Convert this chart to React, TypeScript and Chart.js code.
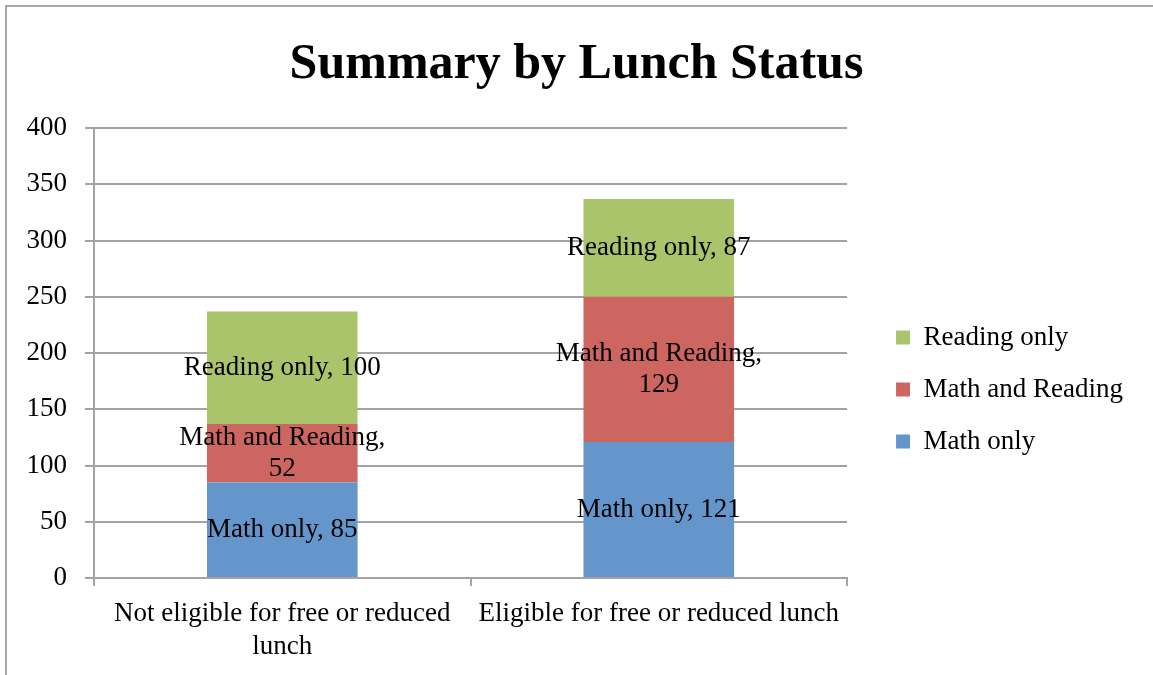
import React, { useEffect, useRef } from 'react';
import { Chart, registerables } from 'chart.js';

Chart.register(...registerables);

const chartTitle = 'Summary by Lunch Status';
const categories = [['Not eligible for free or reduced', 'lunch'], 'Eligible for free or reduced lunch'];
const seriesNames = ['Math only', 'Math and Reading', 'Reading only'];
const mathOnly = [85, 121];
const mathAndReading = [52, 129];
const readingOnly = [100, 87];
const yMin = 0;
const yMax = 400;
const yStep = 50;
const seriesColors = ['#6496CB', '#CD6660', '#AAC46C'];

const FONT = '"Liberation Serif", "Times New Roman", serif';
const GRID = '#a3a3a3';

function wrapText(ctx: CanvasRenderingContext2D, text: string, maxW: number): string[] {
  const words = text.split(' ');
  const lines: string[] = [];
  let cur = '';
  for (const w of words) {
    const test = cur ? cur + ' ' + w : w;
    if (cur && ctx.measureText(test).width > maxW) {
      lines.push(cur);
      cur = w;
    } else {
      cur = test;
    }
  }
  if (cur) lines.push(cur);
  return lines;
}

const segmentLabels = {
  id: 'segmentLabels',
  afterDatasetsDraw(chart: any) {
    const ctx: CanvasRenderingContext2D = chart.ctx;
    ctx.save();
    ctx.font = `27px ${FONT}`;
    ctx.fillStyle = '#000';
    ctx.textAlign = 'center';
    ctx.textBaseline = 'middle';
    chart.data.datasets.forEach((ds: any, di: number) => {
      const meta = chart.getDatasetMeta(di);
      meta.data.forEach((el: any, i: number) => {
        const text = `${ds.label}, ${ds.data[i]}`;
        const lines = wrapText(ctx, text, 215);
        const cx = el.x;
        const cy = (el.y + el.base) / 2;
        const lh = 31;
        lines.forEach((ln, k) => {
          ctx.fillText(ln, cx, cy + (k - (lines.length - 1) / 2) * lh);
        });
      });
    });
    ctx.restore();
  },
};

export default function App() {
  const canvasRef = useRef<HTMLCanvasElement>(null);

  useEffect(() => {
    if (!canvasRef.current) return;
    const seriesData = [mathOnly, mathAndReading, readingOnly];
    const chart = new Chart(canvasRef.current, {
      type: 'bar',
      data: {
        labels: categories as any,
        datasets: seriesNames.map((name, i) => ({
          label: name,
          data: seriesData[i],
          backgroundColor: seriesColors[i],
          borderWidth: 0,
          categoryPercentage: 0.4,
          barPercentage: 1,
        })),
      },
      options: {
        responsive: false,
        animation: false,
        layout: { padding: { left: 20, right: 20, top: 0, bottom: 0 } },
        scales: {
          x: {
            stacked: true,
            grid: {
              display: true,
              drawOnChartArea: false,
              drawTicks: true,
              tickLength: 8,
              color: GRID,
              lineWidth: 2,
              offset: true,
            },
            border: { display: true, color: GRID, width: 2 },
            ticks: { font: { family: FONT, size: 27, lineHeight: 1.2 }, color: '#000', padding: 12, maxRotation: 0, autoSkip: false },
            afterFit: (s: any) => { s.height = 97; },
          },
          y: {
            stacked: true,
            min: yMin,
            max: yMax,
            grid: { color: GRID, lineWidth: 2, tickLength: 9, drawTicks: true },
            border: { display: true, color: GRID, width: 2 },
            ticks: { stepSize: yStep, font: { family: FONT, size: 27 }, color: '#000', padding: 18 },
            afterFit: (s: any) => { s.width = 74; },
          },
          y2: {
            position: 'right',
            display: false,
            afterFit: (s: any) => { s.width = 24; },
          },
        },
        plugins: {
          title: {
            display: true,
            text: chartTitle,
            color: '#000',
            font: { family: FONT, size: 50, weight: 'bold', lineHeight: 1.2 },
            padding: { top: 35, bottom: 33 },
          },
          legend: {
            position: 'right',
            reverse: true,
            title: { display: true, text: ' ', font: { size: 10, lineHeight: 1.2 }, padding: { top: 92, bottom: 0 } },
            labels: {
              boxWidth: 14,
              boxHeight: 14,
              padding: 25,
              color: '#000',
              font: { family: FONT, size: 27 },
            },
          },
          tooltip: { enabled: false },
        },
      },
      plugins: [segmentLabels],
    });
    return () => chart.destroy();
  }, []);

  return (
    <div style={{ position: 'absolute', left: 0, top: 0, width: 1153, height: 675, overflow: 'hidden', background: '#fff' }}>
      <div
        style={{
          position: 'absolute',
          left: 5,
          top: 5,
          width: 2000,
          height: 2000,
          borderLeft: '2px solid #a6a6a6',
          borderTop: '2px solid #a6a6a6',
        }}
      />
      <canvas
        ref={canvasRef}
        width={1153}
        height={675}
        style={{ position: 'absolute', left: 0, top: 0, display: 'block' }}
      />
    </div>
  );
}
